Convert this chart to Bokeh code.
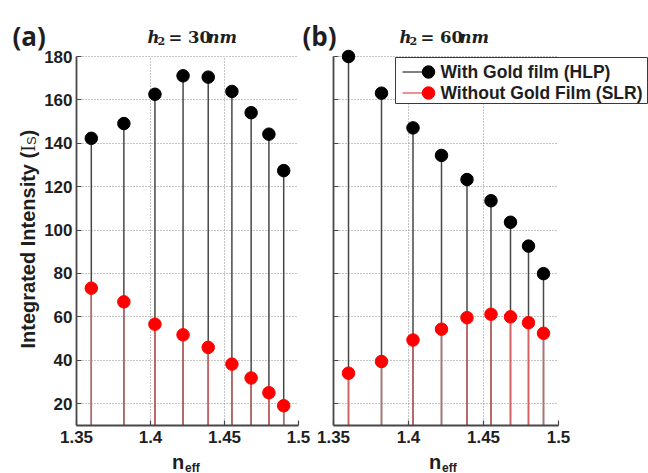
from math import pi

from bokeh.embed import file_html
from bokeh.layouts import column, row
from bokeh.models import ColumnDataSource, FixedTicker, Label, Range1d
from bokeh.plotting import figure
from bokeh.resources import INLINE

# Effective index of each lattice mode
n_eff = [1.360, 1.382, 1.403, 1.422, 1.439, 1.455, 1.468, 1.480, 1.490]

# Integrated intensity for a spacer of h2 = 30 nm
hlp_30nm = [142.3, 149.1, 162.6, 171.1, 170.5, 163.9, 154.1, 144.2, 127.4]
slr_30nm = [73.2, 66.9, 56.6, 51.7, 45.9, 38.2, 31.8, 25.0, 19.0]

# Integrated intensity for a spacer of h2 = 60 nm
hlp_60nm = [180.0, 163.1, 147.1, 134.4, 123.3, 113.5, 103.6, 92.6, 79.9]
slr_60nm = [34.0, 39.4, 49.3, 54.3, 59.6, 61.2, 60.0, 57.3, 52.4]

x_ticks = [1.35, 1.40, 1.45, 1.50]
x_tick_labels = ["1.35", "1.4", "1.45", "1.5"]
y_ticks = [20, 40, 60, 80, 100, 120, 140, 160, 180]

legend_labels = ["With Gold film (HLP)", "Without Gold Film (SLR)"]
panel_tags = ["(a)", "(b)"]
spacer_nm = ["30", "60"]

X_RANGE = (1.35, 1.5)
Y_AXIS = (9.9, 180.0)
Y_VIEW = (9.9, 183.7)   # a little headroom so the top marker is not cut
STEM_BASE = 0

WIDTH, HEIGHT = 648, 473
SANS = "Liberation Sans"
SERIF = "DejaVu Serif"
AXIS_GREY = "#474747"
TEXT = "#1e1e1e"
HLP_STEM, SLR_STEM = "#474747", "#d06464"
HLP_DOT, SLR_DOT = "#000000", "#ff0000"
DOT_SIZE = 12.5


def make_panel(hlp, slr, width, border_left, border_right):
    p = figure(width=width, height=HEIGHT,
               x_range=Range1d(*X_RANGE), y_range=Range1d(*Y_VIEW),
               output_backend="svg", toolbar_location=None,
               min_border_left=border_left, min_border_right=border_right,
               min_border_top=48, min_border_bottom=48)
    p.outline_line_color = None
    p.border_fill_alpha = 0.0
    p.background_fill_color = "white"

    for ax in (p.xaxis[0], p.yaxis[0]):
        ax.axis_line_color = AXIS_GREY
        ax.axis_line_width = 1.8
        ax.major_tick_line_color = AXIS_GREY
        ax.major_tick_line_width = 1.2
        ax.major_tick_in = 5
        ax.major_tick_out = 0
        ax.minor_tick_line_color = None
        ax.major_label_text_font = SANS
        ax.major_label_text_font_style = "bold"
        ax.major_label_text_font_size = "17px"
        ax.major_label_text_color = TEXT
    p.xaxis.ticker = FixedTicker(ticks=x_ticks)
    p.xaxis.major_label_overrides = dict(zip(x_ticks, x_tick_labels))
    p.xaxis.major_label_standoff = 5
    p.yaxis.ticker = FixedTicker(ticks=y_ticks)
    p.yaxis.bounds = Y_AXIS
    p.yaxis.major_label_standoff = 4

    p.grid.grid_line_color = "#8a8a8a"
    p.grid.grid_line_dash = "1 2"
    p.grid.grid_line_width = 1
    p.xgrid.cross_bounds = Y_AXIS

    src = ColumnDataSource(dict(n=n_eff, hlp=hlp, slr=slr))
    p.segment(x0="n", y0=STEM_BASE, x1="n", y1="hlp", source=src,
              line_color=HLP_STEM, line_width=1.5)
    p.segment(x0="n", y0=STEM_BASE, x1="n", y1="slr", source=src,
              line_color=SLR_STEM, line_width=1.4)
    p.scatter(x="n", y="hlp", source=src, marker="circle", size=DOT_SIZE,
              fill_color=HLP_DOT, line_color=HLP_DOT)
    p.scatter(x="n", y="slr", source=src, marker="circle", size=DOT_SIZE,
              fill_color=SLR_DOT, line_color=SLR_DOT)
    return p


left = make_panel(hlp_30nm, slr_30nm, 314, 76, 16)
right = make_panel(hlp_60nm, slr_60nm, 334, 19, 90)
right.yaxis.major_label_overrides = {t: "" for t in y_ticks}

# Transparent sheet laid over both panels, in pixel units (y grows downward),
# carrying the headings, axis titles and the shared legend.
sheet = figure(width=WIDTH, height=HEIGHT, x_range=Range1d(0, WIDTH),
               y_range=Range1d(HEIGHT, 0), x_axis_type=None, y_axis_type=None,
               output_backend="svg", toolbar_location=None,
               min_border=0, min_border_left=0, min_border_right=0,
               min_border_top=0, min_border_bottom=0)
sheet.grid.visible = False
sheet.outline_line_color = None
sheet.background_fill_alpha = 0.0
sheet.border_fill_alpha = 0.0
sheet.margin = (-HEIGHT, 0, 0, 0)


def add_text(text, x, y, size, font=SANS, style="bold", angle=0.0,
             align="left", baseline="alphabetic"):
    sheet.add_layout(Label(x=x, y=y, text=text, text_font=font,
                           text_font_size=f"{size}px", text_font_style=style,
                           text_color=TEXT, angle=angle, text_align=align,
                           text_baseline=baseline))


# panel tags
add_text(panel_tags[0], 12, 35, 26, font="Open Sans")
add_text(panel_tags[1], 302, 35, 26, font="Open Sans")

# spacer thickness headings
for x0, spacer in ((147, spacer_nm[0]), (399, spacer_nm[1])):
    add_text("h", x0, 36.5, 16.5, font=SERIF, style="bold italic")
    add_text("2", x0 + 10, 40, 11, font=SERIF, style="bold")
    add_text("= " + spacer, x0 + 21, 36.5, 16.5, font=SERIF, style="bold")
    add_text("nm", x0 + 60, 36.5, 16.5, font=SERIF, style="bold italic")

# x axis titles: n_eff
for x0 in (171.5, 428.5):
    add_text("n", x0, 461.5, 20)
    add_text("eff", x0 + 13, 467, 12)

# y axis title, written bottom to top
add_text("Integrated Intensity (", 27, 348, 20, angle=pi / 2)
add_text("I", 27, 151.3, 20, font="Liberation Serif", style="normal", angle=pi / 2)
add_text("S", 31, 144.6, 13, style="normal", angle=pi / 2)
add_text(")", 27, 135.9, 20, angle=pi / 2)

# legend
LEG_LEFT, LEG_RIGHT, LEG_TOP, LEG_BOTTOM = 395, 647, 57, 103
LEG_ROWS = [71.5, 92.5]
sheet.quad(left=[LEG_LEFT], right=[LEG_RIGHT], top=[LEG_TOP], bottom=[LEG_BOTTOM],
           fill_color="white", line_color="#3a3a3a", line_width=1)
sheet.segment(x0=[402, 402], y0=LEG_ROWS, x1=[428, 428], y1=LEG_ROWS,
              line_color=["#000000", "#e02020"], line_width=1)
sheet.scatter(x=[428, 428], y=LEG_ROWS, marker="circle", size=DOT_SIZE,
              fill_color=[HLP_DOT, SLR_DOT], line_color=[HLP_DOT, SLR_DOT])
for label, y in zip(legend_labels, LEG_ROWS):
    add_text(label, 440, y, 17.5, baseline="middle")

layout = column(row(left, right), sheet)
open("out.html", "w").write(file_html(layout, INLINE))
